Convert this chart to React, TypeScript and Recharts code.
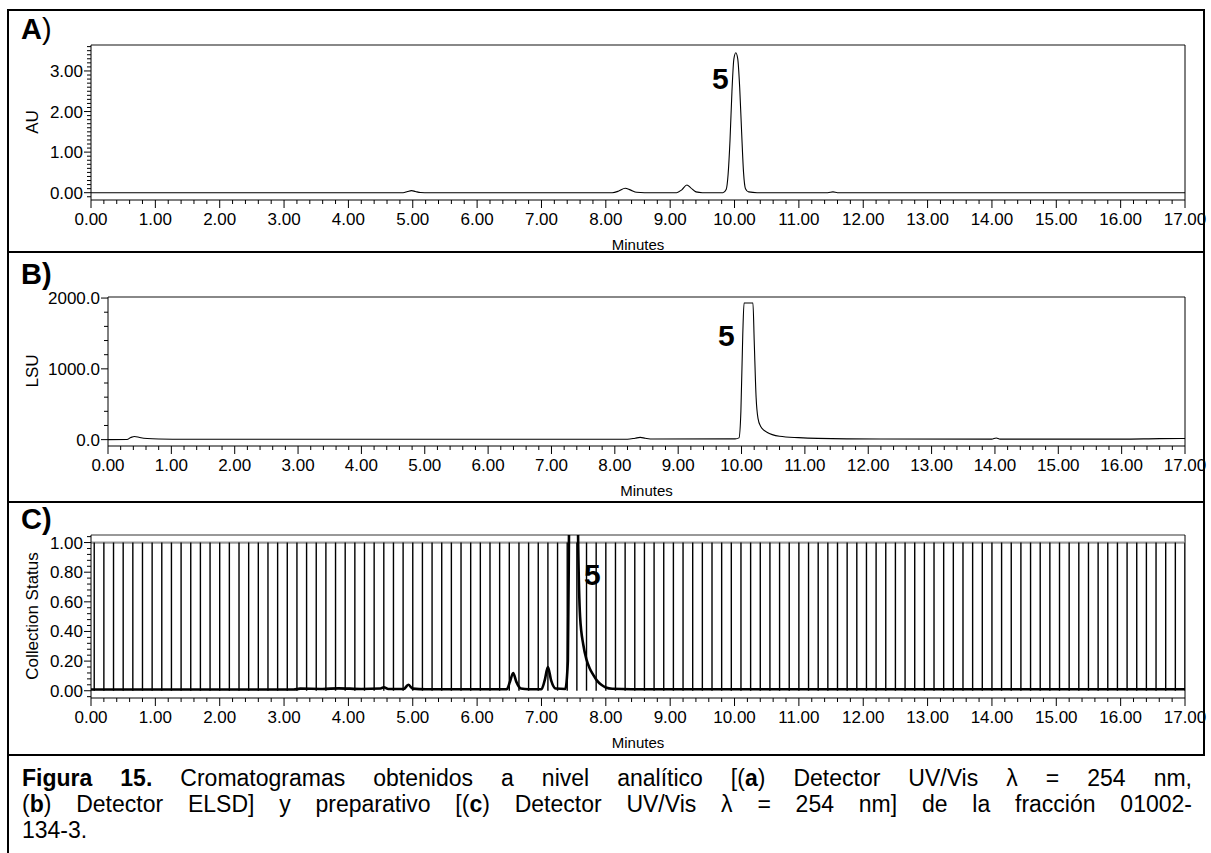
import { LineChart, Line, XAxis, YAxis, ReferenceLine } from "recharts";

// A) analytical UV/Vis 254 nm, minutes vs AU
const uvTrace = [
  { t: 0, au: 0 }, { t: 1, au: 0 }, { t: 2.5, au: 0 }, { t: 4.0, au: 0 },
  { t: 4.85, au: 0 }, { t: 4.92, au: 0.03 }, { t: 4.98, au: 0.05 }, { t: 5.04, au: 0.03 },
  { t: 5.12, au: 0.005 }, { t: 5.25, au: 0 }, { t: 6.5, au: 0 }, { t: 8.1, au: 0 },
  { t: 8.2, au: 0.04 }, { t: 8.3, au: 0.11 }, { t: 8.38, au: 0.07 }, { t: 8.48, au: 0.01 },
  { t: 8.6, au: 0 }, { t: 9.1, au: 0 }, { t: 9.18, au: 0.07 }, { t: 9.26, au: 0.19 },
  { t: 9.32, au: 0.12 }, { t: 9.4, au: 0.02 }, { t: 9.5, au: 0 }, { t: 9.82, au: 0 },
  { t: 9.87, au: 0.08 }, { t: 9.9, au: 0.45 }, { t: 9.93, au: 1.3 }, { t: 9.96, au: 2.5 },
  { t: 9.99, au: 3.3 }, { t: 10.02, au: 3.45 }, { t: 10.05, au: 3.3 }, { t: 10.08, au: 2.6 },
  { t: 10.11, au: 1.5 }, { t: 10.14, au: 0.5 }, { t: 10.17, au: 0.1 }, { t: 10.22, au: 0.02 },
  { t: 10.35, au: 0 }, { t: 11.45, au: 0 }, { t: 11.53, au: 0.02 }, { t: 11.6, au: 0 },
  { t: 13, au: 0 }, { t: 17, au: 0 },
];

// B) analytical ELSD, minutes vs LSU (detector saturates near 1930)
const elsdTrace = [
  { t: 0, lsu: 0 }, { t: 0.3, lsu: 2 }, { t: 0.36, lsu: 30 }, { t: 0.42, lsu: 45 },
  { t: 0.5, lsu: 30 }, { t: 0.62, lsu: 15 }, { t: 0.8, lsu: 8 }, { t: 1.2, lsu: 5 },
  { t: 3, lsu: 6 }, { t: 5, lsu: 5 }, { t: 8.2, lsu: 6 }, { t: 8.32, lsu: 20 },
  { t: 8.4, lsu: 32 }, { t: 8.48, lsu: 20 }, { t: 8.6, lsu: 8 }, { t: 9.9, lsu: 10 },
  { t: 9.96, lsu: 25 }, { t: 9.99, lsu: 400 }, { t: 10.02, lsu: 1500 }, { t: 10.04, lsu: 1930 },
  { t: 10.18, lsu: 1930 }, { t: 10.2, lsu: 1400 }, { t: 10.23, lsu: 600 }, { t: 10.26, lsu: 300 },
  { t: 10.3, lsu: 190 }, { t: 10.4, lsu: 105 }, { t: 10.6, lsu: 48 }, { t: 10.9, lsu: 28 },
  { t: 11.2, lsu: 18 }, { t: 12.2, lsu: 9 }, { t: 13.95, lsu: 7 }, { t: 14.02, lsu: 24 },
  { t: 14.08, lsu: 7 }, { t: 16, lsu: 7 }, { t: 16.6, lsu: 14 }, { t: 17, lsu: 16 },
];

// C) preparative UV/Vis trace, on the collection status scale
const prepTrace = [
  { t: 0, v: 0.008 }, { t: 3.15, v: 0.008 }, { t: 3.25, v: 0.014 }, { t: 3.6, v: 0.012 },
  { t: 3.85, v: 0.016 }, { t: 4.2, v: 0.012 }, { t: 4.5, v: 0.015 }, { t: 4.55, v: 0.024 },
  { t: 4.62, v: 0.012 }, { t: 4.86, v: 0.012 }, { t: 4.93, v: 0.04 }, { t: 5.0, v: 0.014 },
  { t: 5.2, v: 0.01 }, { t: 6.46, v: 0.01 }, { t: 6.51, v: 0.06 }, { t: 6.56, v: 0.12 },
  { t: 6.61, v: 0.06 }, { t: 6.68, v: 0.015 }, { t: 6.8, v: 0.01 }, { t: 7.0, v: 0.01 },
  { t: 7.05, v: 0.07 }, { t: 7.1, v: 0.16 }, { t: 7.15, v: 0.07 }, { t: 7.22, v: 0.015 },
  { t: 7.37, v: 0.012 }, { t: 7.41, v: 0.2 }, { t: 7.43, v: 1.2 }, { t: 7.46, v: 2.6 },
  { t: 7.5, v: 3.0 }, { t: 7.54, v: 2.2 }, { t: 7.57, v: 1.0 }, { t: 7.6, v: 0.5 },
  { t: 7.65, v: 0.31 }, { t: 7.7, v: 0.21 }, { t: 7.75, v: 0.15 }, { t: 7.8, v: 0.11 },
  { t: 7.86, v: 0.07 }, { t: 7.93, v: 0.04 }, { t: 8.0, v: 0.022 }, { t: 8.1, v: 0.013 },
  { t: 8.4, v: 0.01 }, { t: 12, v: 0.01 }, { t: 17, v: 0.01 },
];

// fraction changes (status drops to 0 for an instant)
const fractionTimes = [
  0.05, 0.2, 0.35, 0.5, 0.65, 0.8, 0.95, 1.1, 1.25, 1.4, 1.55, 1.7, 1.85, 2, 2.15, 2.3,
  2.45, 2.6, 2.75, 2.9, 3.05, 3.2, 3.35, 3.5, 3.65, 3.8, 3.95, 4.1, 4.25, 4.4, 4.55, 4.7,
  4.85, 5, 5.15, 5.3, 5.45, 5.6, 5.75, 5.9, 6.05, 6.2, 6.35, 6.5, 6.65, 6.8, 6.95, 7.1,
  7.25, 7.4, 7.55, 7.7, 7.85, 8, 8.15, 8.3, 8.45, 8.6, 8.75, 8.9, 9.05, 9.2, 9.35, 9.5,
  9.65, 9.8, 9.95, 10.1, 10.25, 10.4, 10.55, 10.7, 10.85, 11, 11.15, 11.3, 11.45, 11.6,
  11.75, 11.9, 12.05, 12.2, 12.35, 12.5, 12.65, 12.8, 12.95, 13.1, 13.25, 13.4, 13.55,
  13.7, 13.85, 14, 14.15, 14.3, 14.45, 14.6, 14.75, 14.9, 15.05, 15.2, 15.35, 15.5,
  15.65, 15.8, 15.95, 16.1, 16.25, 16.4, 16.55, 16.7, 16.85, 17,
];
const statusLevel = [{ t: 0, s: 1 }, { t: 17, s: 1 }];

// labelled ticks
const minuteTicks = [0, 1, 2, 3, 4, 5, 6, 7, 8, 9, 10, 11, 12, 13, 14, 15, 16, 17];
const auTicks = [0, 1, 2, 3];
const lsuTicks = [0, 1000, 2000];
const statusTicks = [0, 0.2, 0.4, 0.6, 0.8, 1];

// minor tick positions
const minuteMinor = Array.from({ length: 86 }, (_, i) => i / 5);
const auMinor = Array.from({ length: 38 }, (_, i) => (i - 1) / 10);
const lsuMinor = Array.from({ length: 11 }, (_, i) => i * 200);
const statusMinor = Array.from({ length: 28 }, (_, i) => (i - 1) / 25);

const fractionMarks = fractionTimes.flatMap((t) => [
  { t, s: 0 },
  { t, s: 1 },
  { t, s: null },
]);

const FONT = '"Liberation Sans", Arial, Helvetica, sans-serif';

function MinuteTick({ x, y, payload }: any) {
  const major = minuteTicks.includes(payload.value);
  return (
    <g>
      <line x1={x} x2={x} y1={y} y2={y + (major ? 8 : 4)} stroke="#000" />
      {major && (
        <text x={x} y={y + 25} textAnchor="middle" fontSize={17} fill="#000">
          {payload.value.toFixed(2)}
        </text>
      )}
    </g>
  );
}

function valueTick(labels: number[], digits: number) {
  return ({ x, y, payload }: any) => {
    const major = labels.includes(payload.value);
    return (
      <g>
        <line x1={x - (major ? 7 : 4)} x2={x} y1={y} y2={y} stroke="#000" />
        {major && (
          <text x={x - 8} y={y + 6} textAnchor="end" fontSize={17} fill="#000">
            {payload.value.toFixed(digits)}
          </text>
        )}
      </g>
    );
  };
}

const minutesLabel = (offset: number) => ({
  value: "Minutes",
  position: "insideBottom" as const,
  offset,
  fontSize: 15,
  fill: "#000",
});

function YTitle({ text, top }: { text: string; top: number }) {
  return (
    <div
      style={{
        position: "absolute",
        left: 33,
        top,
        transform: "translate(-50%, -50%) rotate(-90deg)",
        whiteSpace: "nowrap",
        fontSize: 17,
      }}
    >
      {text}
    </div>
  );
}

function PeakLabel({ left, top }: { left: number; top: number }) {
  return (
    <div style={{ position: "absolute", left, top, fontSize: 30, fontWeight: "bold", lineHeight: "30px" }}>
      5
    </div>
  );
}

const rule = (style: any) => <div style={{ position: "absolute", background: "#000", ...style }} />;

export default function App() {
  return (
    <div
      style={{
        position: "absolute",
        left: 0,
        top: 0,
        width: 1211,
        height: 853,
        background: "#fff",
        fontFamily: FONT,
        color: "#000",
        overflow: "hidden",
      }}
    >
      {/* A) UV/Vis analytical */}
      <LineChart width={1211} height={252} style={{ position: "absolute", left: 0, top: 0 }}
        margin={{ top: 45, right: 26, bottom: 0, left: 0 }}>
        <XAxis type="number" dataKey="t" domain={[0, 17]} ticks={minuteMinor} interval={0}
          tick={MinuteTick} tickLine={false} tickSize={0} tickMargin={0} height={52}
          axisLine={{ stroke: "#000" }} allowDataOverflow label={minutesLabel(2)} />
        <YAxis type="number" domain={[-0.18, 3.64]} ticks={auMinor} interval={0} width={91}
          tick={valueTick(auTicks, 2)} tickLine={false} tickSize={0} tickMargin={0}
          axisLine={{ stroke: "#000" }} allowDataOverflow />
        <ReferenceLine y={3.64} stroke="#888" strokeWidth={2} />
        <ReferenceLine x={17} stroke="#000" />
        <Line data={uvTrace} dataKey="au" type="monotone" stroke="#000" strokeWidth={1.1}
          dot={false} isAnimationActive={false} />
      </LineChart>

      {/* B) ELSD analytical */}
      <LineChart width={1211} height={250} style={{ position: "absolute", left: 0, top: 252 }}
        margin={{ top: 45, right: 26, bottom: 0, left: 0 }}>
        <XAxis type="number" dataKey="t" domain={[0, 17]} ticks={minuteMinor} interval={0}
          tick={MinuteTick} tickLine={false} tickSize={0} tickMargin={0} height={56}
          axisLine={{ stroke: "#000" }} allowDataOverflow label={minutesLabel(6)} />
        <YAxis type="number" domain={[-90, 2015]} ticks={lsuMinor} interval={0} width={108}
          tick={valueTick(lsuTicks, 1)} tickLine={false} tickSize={0} tickMargin={0}
          axisLine={{ stroke: "#000" }} allowDataOverflow />
        <ReferenceLine y={2015} stroke="#888" strokeWidth={2} />
        <ReferenceLine x={17} stroke="#000" />
        <Line data={elsdTrace} dataKey="lsu" type="monotone" stroke="#000" strokeWidth={1.1}
          dot={false} isAnimationActive={false} />
      </LineChart>

      {/* C) UV/Vis preparative with collection status */}
      <LineChart width={1211} height={252} style={{ position: "absolute", left: 0, top: 502 }}
        margin={{ top: 33, right: 26, bottom: 0, left: 0 }}>
        <XAxis type="number" dataKey="t" domain={[0, 17]} ticks={minuteMinor} interval={0}
          tick={MinuteTick} tickLine={false} tickSize={0} tickMargin={0} height={56}
          axisLine={{ stroke: "#000" }} allowDataOverflow label={minutesLabel(6)} />
        <YAxis type="number" domain={[-0.049, 1.051]} ticks={statusMinor} interval={0} width={91}
          tick={valueTick(statusTicks, 2)} tickLine={false} tickSize={0} tickMargin={0}
          axisLine={{ stroke: "#000" }} allowDataOverflow />
        <ReferenceLine y={1.051} stroke="#333" />
        <ReferenceLine x={17} stroke="#000" />
        <Line data={statusLevel} dataKey="s" type="linear" stroke="#999" strokeWidth={2.2}
          dot={false} isAnimationActive={false} />
        <Line data={fractionMarks} dataKey="s" type="linear" stroke="#000" strokeWidth={1.4}
          dot={false} connectNulls={false} isAnimationActive={false} />
        <Line data={prepTrace} dataKey="v" type="monotone" stroke="#000" strokeWidth={2.6}
          dot={false} isAnimationActive={false} />
      </LineChart>

      {/* panel tags, axis titles, peak labels */}
      <div style={{ position: "absolute", left: 21, top: 12, fontSize: 29, lineHeight: "34px" }}>
        <b>A</b>)
      </div>
      <div style={{ position: "absolute", left: 21, top: 257, fontSize: 29, lineHeight: "34px", fontWeight: "bold" }}>
        B)
      </div>
      <div style={{ position: "absolute", left: 21, top: 502, fontSize: 29, lineHeight: "34px", fontWeight: "bold" }}>
        C)
      </div>
      <YTitle text="AU" top={122} />
      <YTitle text="LSU" top={371} />
      <YTitle text="Collection Status" top={616} />
      <PeakLabel left={712} top={64} />
      <PeakLabel left={718} top={321} />
      <PeakLabel left={584} top={560} />

      {/* figure frame */}
      {rule({ left: 7, top: 9, width: 2, height: 844 })}
      {rule({ left: 1203, top: 9, width: 2, height: 747 })}
      {rule({ left: 7, top: 9, width: 1198, height: 2 })}
      {rule({ left: 7, top: 251, width: 1198, height: 2 })}
      {rule({ left: 7, top: 501, width: 1198, height: 2 })}
      {rule({ left: 7, top: 754, width: 1198, height: 2 })}

      {/* caption */}
      <div style={{ position: "absolute", left: 22, top: 765, width: 1170, fontSize: 23, lineHeight: "26px" }}>
        <div style={{ textAlign: "justify", textAlignLast: "justify" }}>
          <b>Figura 15.</b> Cromatogramas obtenidos a nivel analítico [(<b>a</b>) Detector UV/Vis λ = 254 nm,
        </div>
        <div style={{ textAlign: "justify", textAlignLast: "justify" }}>
          (<b>b</b>) Detector ELSD] y preparativo [(<b>c</b>) Detector UV/Vis λ = 254 nm] de la fracción 01002-
        </div>
        <div>134-3.</div>
      </div>
    </div>
  );
}
